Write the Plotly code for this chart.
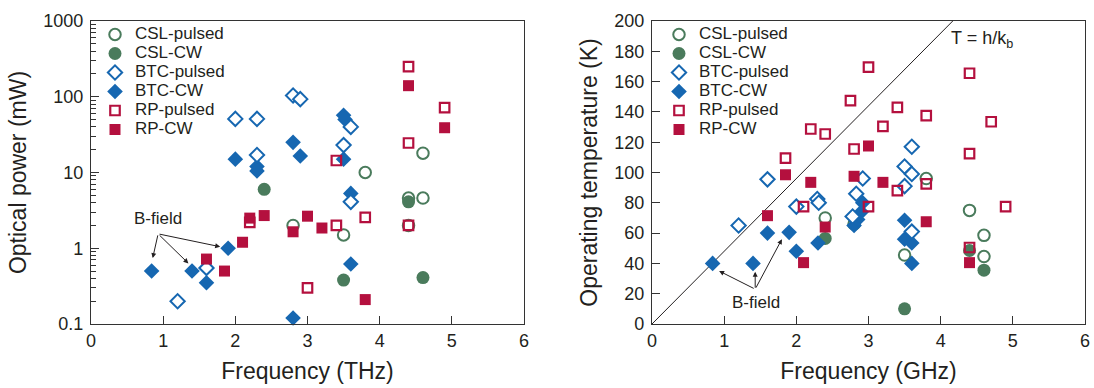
import math
import plotly.graph_objects as go

FONT = "Liberation Sans, Arial, Helvetica, sans-serif"
INK = "#231f20"
GREEN = "#4a7b5c"
BLUE = "#1667b1"
CRIMSON = "#b4103e"

# ---------------- Optical power vs frequency ----------------
p_csl_pulsed_f = [2.8, 3.5, 3.8, 4.4, 4.4, 4.6, 4.6]
p_csl_pulsed_v = [2.0, 1.5, 10.0, 4.6, 2.0, 18.0, 4.6]
p_csl_cw_f = [2.4, 3.5, 4.4, 4.6]
p_csl_cw_v = [6.0, 0.38, 4.1, 0.41]
p_btc_pulsed_f = [1.2, 1.6, 2.0, 2.3, 2.3, 2.8, 2.9, 3.5, 3.6, 3.6]
p_btc_pulsed_v = [0.2, 0.55, 51, 51, 17, 104, 93, 23, 40, 4.1]
p_btc_cw_f = [0.84, 1.4, 1.6, 1.9, 2.0, 2.3, 2.3, 2.8, 2.9, 2.8, 3.5, 3.52, 3.5, 3.6, 3.6]
p_btc_cw_v = [0.5, 0.5, 0.35, 1.0, 15, 12, 10.5, 25, 16.5, 0.12, 57, 50, 15, 5.3, 0.62]
p_rp_pulsed_f = [2.2, 3.0, 3.4, 3.4, 3.8, 4.4, 4.4, 4.4, 4.9]
p_rp_pulsed_v = [2.2, 0.3, 14.4, 2.0, 2.55, 250, 24.5, 2.0, 72]
p_rp_cw_f = [1.6, 1.85, 2.1, 2.2, 2.4, 2.8, 3.0, 3.2, 3.8, 4.4, 4.9]
p_rp_cw_v = [0.72, 0.5, 1.2, 2.5, 2.7, 1.65, 2.65, 1.85, 0.21, 140, 39]

# ---------------- Operating temperature vs frequency ----------------
t_csl_pulsed_f = [2.4, 2.8, 3.5, 3.8, 4.4, 4.6, 4.6]
t_csl_pulsed_v = [70, 66, 45.5, 96, 75, 58.5, 44.5]
t_csl_cw_f = [2.4, 3.5, 4.4, 4.6]
t_csl_cw_v = [56.5, 10, 48.5, 35.5]
t_btc_pulsed_f = [1.2, 1.6, 2.0, 2.29, 2.31, 2.78, 2.83, 2.92, 3.5, 3.5, 3.6, 3.6, 3.6]
t_btc_pulsed_v = [65, 95.5, 77.5, 82.5, 80, 71, 86, 96, 104, 91, 117, 99, 61]
t_btc_cw_f = [0.84, 1.4, 1.6, 1.9, 2.0, 2.3, 2.8, 2.85, 2.9, 2.92, 3.5, 3.5, 3.6, 3.6]
t_btc_cw_v = [40, 40, 60, 60.5, 48, 53.5, 65, 69, 74, 80, 68.5, 56, 53.5, 40]
t_rp_pulsed_f = [1.85, 2.1, 2.2, 2.4, 2.75, 2.8, 3.0, 3.0, 3.2, 3.4, 3.4, 3.8, 3.8, 4.4, 4.4, 4.4, 4.7, 4.9]
t_rp_pulsed_v = [109.5, 77.5, 128.7, 125.4, 147.5, 115.5, 169.5, 77.5, 130.5, 143, 88, 137.5, 92.5,
                 165.5, 112.5, 50.5, 133.5, 77.5]
t_rp_cw_f = [1.6, 1.85, 2.1, 2.2, 2.4, 2.8, 3.0, 3.2, 3.8, 4.4]
t_rp_cw_v = [71.5, 98.5, 40.5, 93.5, 64, 97.5, 117.5, 93.5, 67.5, 40.5]

# T = h f / k_B reference line (frequency in units of 1e12 Hz)
H_PLANCK = 6.62607015e-34
K_BOLTZ = 1.380649e-23
line_f = [0.0, 6.0]
line_t = [H_PLANCK / K_BOLTZ * 1e12 * f for f in line_f]

x_ticks = [0, 1, 2, 3, 4, 5, 6]
p_ticks = [0.1, 1, 10, 100, 1000]
p_tick_text = ["0.1", "1", "10", "100", "1000"]
t_ticks = list(range(0, 201, 20))

STYLES = {
    "CSL-pulsed": dict(symbol="circle-open", size=11.5, color=GREEN, line=dict(color=GREEN, width=2)),
    "CSL-CW": dict(symbol="circle", size=13, color=GREEN, line=dict(width=0)),
    "BTC-pulsed": dict(symbol="diamond", size=11, color="white", line=dict(color=BLUE, width=2)),
    "BTC-CW": dict(symbol="diamond", size=12, color=BLUE, line=dict(width=0)),
    "RP-pulsed": dict(symbol="square-open", size=9.5, color=CRIMSON, line=dict(color=CRIMSON, width=2.2)),
    "RP-CW": dict(symbol="square", size=11, color=CRIMSON, line=dict(width=0)),
}
LEGEND_ORDER = ["CSL-pulsed", "CSL-CW", "BTC-pulsed", "BTC-CW", "RP-pulsed", "RP-CW"]
DRAW_ORDER = ["CSL-pulsed", "CSL-CW", "BTC-CW", "BTC-pulsed", "RP-pulsed", "RP-CW"]

power_series = {
    "CSL-pulsed": (p_csl_pulsed_f, p_csl_pulsed_v),
    "CSL-CW": (p_csl_cw_f, p_csl_cw_v),
    "BTC-pulsed": (p_btc_pulsed_f, p_btc_pulsed_v),
    "BTC-CW": (p_btc_cw_f, p_btc_cw_v),
    "RP-pulsed": (p_rp_pulsed_f, p_rp_pulsed_v),
    "RP-CW": (p_rp_cw_f, p_rp_cw_v),
}
temp_series = {
    "CSL-pulsed": (t_csl_pulsed_f, t_csl_pulsed_v),
    "CSL-CW": (t_csl_cw_f, t_csl_cw_v),
    "BTC-pulsed": (t_btc_pulsed_f, t_btc_pulsed_v),
    "BTC-CW": (t_btc_cw_f, t_btc_cw_v),
    "RP-pulsed": (t_rp_pulsed_f, t_rp_pulsed_v),
    "RP-CW": (t_rp_cw_f, t_rp_cw_v),
}

fig = go.Figure()


def label(name):
    return f'<span style="font-size:17px">{name}</span>'


for name in DRAW_ORDER:
    f, v = power_series[name]
    fig.add_trace(go.Scatter(
        x=f, y=v, mode="markers", name=label(name), marker=STYLES[name],
        xaxis="x", yaxis="y", legend="legend",
        legendrank=LEGEND_ORDER.index(name) + 1, cliponaxis=False,
    ))

fig.add_trace(go.Scatter(
    x=line_f, y=line_t, mode="lines", line=dict(color=INK, width=1),
    xaxis="x2", yaxis="y2", showlegend=False,
))

for name in DRAW_ORDER:
    f, v = temp_series[name]
    fig.add_trace(go.Scatter(
        x=f, y=v, mode="markers", name=label(name), marker=STYLES[name],
        xaxis="x2", yaxis="y2", legend="legend2",
        legendrank=LEGEND_ORDER.index(name) + 1, cliponaxis=False,
    ))

W, H = 1094, 388
axis_base = dict(
    showline=True, linecolor="#333333", linewidth=1.3, mirror=True,
    ticks="inside", ticklen=8, tickwidth=1.2, tickcolor="#333333",
    showgrid=False, zeroline=False, automargin=False,
    tickfont=dict(family=FONT, size=18, color=INK),
)
title_font = dict(family=FONT, size=23, color=INK)
y_dom = [1 - 324 / H, 1 - 21 / H]

fig.update_layout(
    width=W, height=H,
    margin=dict(l=0, r=0, t=0, b=0),
    paper_bgcolor="white", plot_bgcolor="white",
    font=dict(family=FONT, color=INK),
    xaxis=dict(axis_base, domain=[91 / W, 524 / W], range=[0, 6], tickvals=x_ticks,
               title=dict(text="Frequency (THz)", font=title_font, standoff=13)),
    yaxis=dict(axis_base, domain=y_dom, type="log", range=[-1, 3],
               tickvals=p_ticks, ticktext=p_tick_text, ticklabelstandoff=3,
               minor=dict(ticks="inside", ticklen=5, tickwidth=1, tickcolor="#333333",
                          dtick="D1", showgrid=False),
               title=dict(text="Optical power (mW)", font=title_font, standoff=10)),
    xaxis2=dict(axis_base, domain=[652 / W, 1085 / W], range=[0, 6], tickvals=x_ticks,
                anchor="y2",
                title=dict(text="Frequency (GHz)", font=title_font, standoff=13)),
    yaxis2=dict(axis_base, domain=y_dom, range=[0, 200], tickvals=t_ticks,
                anchor="x2", ticklabelstandoff=3,
                title=dict(text="Operating temperature (K)", font=title_font, standoff=10)),
    legend=dict(x=95 / W, y=1 - 20 / H, xanchor="left", yanchor="top",
                font=dict(family=FONT, size=12, color=INK), bgcolor="rgba(0,0,0,0)",
                borderwidth=0, tracegroupgap=0, itemclick=False),
    legend2=dict(x=659 / W, y=1 - 20 / H, xanchor="left", yanchor="top",
                 font=dict(family=FONT, size=12, color=INK), bgcolor="rgba(0,0,0,0)",
                 borderwidth=0, tracegroupgap=0, itemclick=False),
)

arrow = dict(text="", showarrow=True, arrowhead=2, arrowsize=1, arrowwidth=1,
             arrowcolor=INK, standoff=0, startstandoff=0)

# B-field annotation, power panel (log axis -> log10 coordinates)
fig.add_annotation(x=0.93, y=0.39, xref="x", yref="y", text="B-field", showarrow=False,
                   font=dict(family=FONT, size=17, color=INK))
for hx, hy in [(0.855, -0.13), (1.35, -0.2), (1.79, 0.02)]:
    fig.add_annotation(arrow, x=hx, y=hy, xref="x", yref="y",
                       ax=0.93, ay=0.19, axref="x", ayref="y")

# B-field annotation, temperature panel
fig.add_annotation(x=1.44, y=14, xref="x2", yref="y2", text="B-field", showarrow=False,
                   font=dict(family=FONT, size=17, color=INK))
for hx, hy in [(0.93, 35), (1.43, 34.5), (1.8, 56)]:
    fig.add_annotation(arrow, x=hx, y=hy, xref="x2", yref="y2",
                       ax=1.43, ay=23, axref="x2", ayref="y2")

fig.add_annotation(x=4.12, y=187.5, xref="x2", yref="y2", xanchor="left",
                   text="T = h/k<sub>b</sub>", showarrow=False,
                   font=dict(family=FONT, size=18, color=INK))

fig.write_html("out.html")
